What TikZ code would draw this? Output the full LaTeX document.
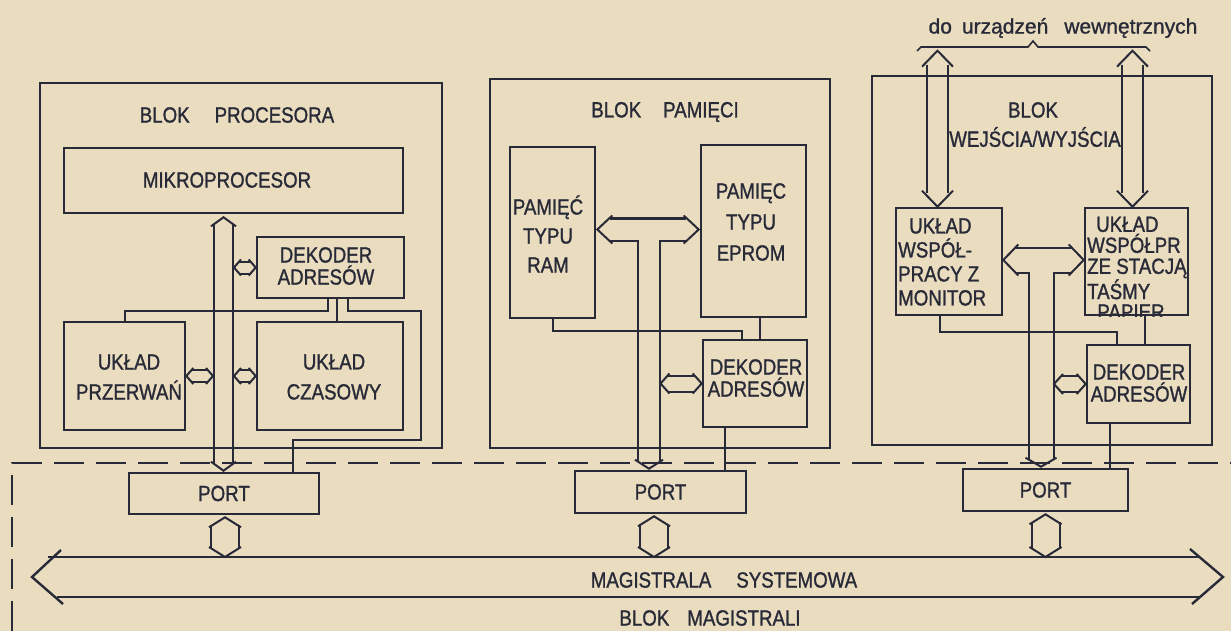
\documentclass[tikz,border=0pt]{standalone}
\usepackage{fontspec}
\setmainfont{Liberation Sans}[FakeStretch=0.85,FakeBold=1.2]
\newfontfamily\plainsans{Liberation Sans}[FakeBold=1.0]
\usetikzlibrary{calc,fit}
\definecolor{paper}{HTML}{EADCBF}
\definecolor{ink}{HTML}{282A38}
\tikzset{
  box/.style={draw=ink, line width=2.6pt, inner sep=0pt},
  txt/.style={text=ink, font=\fontsize{22}{26}\selectfont, align=center, inner sep=0pt},
  wire/.style={draw=ink, line width=2pt},
  bus/.style={draw=ink, line width=2pt, line join=miter},
  border/.style={draw=ink, line width=2.2pt, dash pattern=on 30pt off 12pt},
}
% box from two corner points
\newcommand{\mkbox}[3]{\node[box, fit={#2 #3}] (#1) {};}
% vertical double arrow: top tip, bottom tip, half width, head length, barb extra
\newcommand{\vbus}[5]{%
  \draw[bus] ($(#1)+(-#3-#5,#4)$) -- (#1) -- ($(#1)+(#3+#5,#4)$);
  \draw[bus] ($(#1)+(-#3,#4-2)$) -- ($(#2)+(-#3,-#4+2)$);
  \draw[bus] ($(#1)+(#3,#4-2)$) -- ($(#2)+(#3,-#4+2)$);
  \draw[bus] ($(#2)+(-#3-#5,-#4)$) -- (#2) -- ($(#2)+(#3+#5,-#4)$);}
% horizontal double arrow: left tip, right tip, half width, head length
\newcommand{\hbus}[4]{%
  \draw[bus] ($(#1)+(#4,-#3-2)$) -- (#1) -- ($(#1)+(#4,#3+2)$);
  \draw[bus] ($(#1)+(#4-2,-#3)$) -- ($(#2)+(-#4+2,-#3)$);
  \draw[bus] ($(#1)+(#4-2,#3)$) -- ($(#2)+(-#4+2,#3)$);
  \draw[bus] ($(#2)+(-#4,-#3-2)$) -- (#2) -- ($(#2)+(-#4,#3+2)$);}
% T-shaped bus: left tip, right tip, bottom tip, half width, side head, bottom head
\newcommand{\tbus}[6]{%
  \draw[bus] ($(#1)+(#5,-#4-3)$) -- (#1) -- ($(#1)+(#5,#4+3)$);
  \draw[bus] ($(#2)+(-#5,-#4-3)$) -- (#2) -- ($(#2)+(-#5,#4+3)$);
  \draw[bus] ($(#1)+(#5-2,-#4)$) -- ($(#2)+(-#5+2,-#4)$);
  \draw[bus] ($(#1)+(#5-2,#4)$) -| ($(#3)+(-#4,-#6+2)$);
  \draw[bus] ($(#2)+(-#5+2,#4)$) -| ($(#3)+(#4,-#6+2)$);
  \draw[bus] ($(#3)+(-#4-3,-#6)$) -- (#3) -- ($(#3)+(#4+3,-#6)$);}
\begin{document}
\begin{tikzpicture}[x=1pt,y=-1pt]
\fill[paper] (0,0) rectangle (1231,631);
\useasboundingbox (0,0) rectangle (1231,631);

% ---------- boxes ----------
\mkbox{procblk}{(40,83)}{(442,448)}
\mkbox{mp}{(64,148)}{(403,213)}
\mkbox{dek1}{(257,237)}{(404,298)}
\mkbox{przer}{(64,322)}{(185,430)}
\mkbox{czas}{(257,322)}{(403,430)}
\mkbox{port1}{(129,473)}{(319,514)}

\mkbox{memblk}{(490,79)}{(830,448)}
\mkbox{ram}{(510,147)}{(595,318)}
\mkbox{eprom}{(701,145)}{(806,317)}
\mkbox{dek2}{(703,340)}{(807,427)}
\mkbox{port2}{(575,471)}{(746,513)}

\mkbox{ioblk}{(872,76)}{(1212,445)}
\mkbox{mon}{(896,208)}{(1002,315)}
\mkbox{tape}{(1085,208)}{(1188,315)}
\mkbox{dek3}{(1087,345)}{(1190,423)}
\mkbox{port3}{(963,469)}{(1128,511)}

% ---------- texts ----------
\node[txt] (tproc) at (237,115) {BLOK\hspace{25pt}PROCESORA};
\node[txt] (tmp) at (227,180) {MIKROPROCESOR};
\node[txt, font=\fontsize{22}{22}\selectfont] (tdek1) at (326,266) {DEKODER\\ADRESÓW};
\node[txt, font=\fontsize{22}{30}\selectfont] (tprzer) at (129,377) {UKŁAD\\PRZERWAŃ};
\node[txt, font=\fontsize{22}{30}\selectfont] (tczas) at (334,377) {UKŁAD\\CZASOWY};

\node[txt] (tmem) at (665,112) {BLOK\hspace{22pt}PAMIĘCI};
\node[txt, font=\fontsize{22}{29}\selectfont] (tram) at (548,234) {PAMIĘĆ\\TYPU\\RAM};
\node[txt, font=\fontsize{22}{31}\selectfont] (teprom) at (751,222) {PAMIĘC\\TYPU\\EPROM};
\node[txt, font=\fontsize{22}{22}\selectfont] (tdek2) at (756,378) {DEKODER\\ADRESÓW};

\node[txt] (tio1) at (1033,110) {BLOK};
\node[txt] (tio2) at (1035,137) {WEJŚCIA/WYJŚCIA};
\node[txt, font=\fontsize{22}{24}\selectfont, align=left, anchor=west] (tmon) at (898,262) {\hspace{11pt}UKŁAD\\WSPÓŁ-\\PRACY Z\\MONITOR};
\node[txt, font=\fontsize{22}{21}\selectfont, align=left, anchor=west] (ttape) at (1087,258) {\hspace{9pt}UKŁAD\\WSPÓŁPR\\ZE STACJĄ\\TAŚMY};
\begin{scope}
  \clip (tape.south west) rectangle (tape.north east);
  \node[txt] (tpap) at (1131,312) {PAPIER};
\end{scope}
\node[txt, font=\fontsize{22}{22}\selectfont] (tdek3) at (1139,383) {DEKODER\\ADRESÓW};

\node[txt] (tp1) at (port1) {PORT};
\node[txt] (tp2) at (port2) {PORT};
\node[txt] (tp3) at (port3) {PORT};

\node[txt] (tbus) at (724,580) {MAGISTRALA\hspace{25pt}SYSTEMOWA};
\node[txt] (tbm) at (710,618) {BLOK\hspace{18pt}MAGISTRALI};
\node[txt, font=\plainsans\fontsize{21}{24}\selectfont] (text) at (1063,28) {do\hspace{10pt}urządzeń\hspace{16pt}wewnętrznych};

% brace
\draw[wire, line width=1.6pt] (917,51) -- (921,47) -- (1028,47) -- (1033,41) -- (1038,47) -- (1146,47) -- (1150,51);

% ---------- dashed bus block border ----------
\coordinate (dl) at (12,631);
\coordinate (dc) at (12,463);
\coordinate (dr) at (1231,463);
\draw[border] (dl) -- (dc) -- (dr);

% ---------- system bus ----------
\coordinate (busTL) at (48,557);
\coordinate (busTR) at (1200,557);
\coordinate (busBL) at (57,597);
\coordinate (busBR) at (1200,597);
\coordinate (busLt) at (32,577);
\coordinate (busRt) at (1223,577);
\draw[bus, line width=2.6pt] (busTL) -- (busTR);
\draw[bus, line width=2.6pt] (busBL) -- (busBR);
\draw[bus, line width=2.4pt] ($(busLt)+(29,-27)$) -- (busLt) -- ($(busLt)+(31,27)$);
\draw[bus, line width=2.4pt] ($(busRt)+(-33,-28)$) -- (busRt) -- ($(busRt)+(-31,27)$);

% ---------- processor block buses ----------
\coordinate (b1t) at ($(mp.south)+(-10,3)$);
\coordinate (b1b) at ($(port1.north)+(-0.5,-1)$);
\vbus{b1t}{b1b}{9.5}{9}{3}
\coordinate (s1a) at ($(dek1.west -| b1t)+(10.5,0)$);
\hbus{s1a}{dek1.west}{6}{7}
\coordinate (s2b) at ($(przer.east -| b1t)+(-10.5,0)$);
\hbus{przer.east}{s2b}{6}{7}
\coordinate (s3a) at ($(czas.west -| b1t)+(10.5,0)$);
\hbus{s3a}{czas.west}{6}{7}

\draw[wire] (przer.north) |- ($(dek1.south)+(-2.5,12)$) -- ($(dek1.south)+(-2.5,0)$);
\draw[wire] ($(dek1.south)+(6.5,0)$) -- ($(czas.north)+(7,0)$);
\draw[wire] ($(dek1.south)+(17.5,0)$) |- ($(dek1.south -| czas.east)+(17,12)$) |- ($(port1.north)+(69,-32)$) -- ($(port1.north)+(69,0)$);

% ---------- memory block buses ----------
\coordinate (mL) at ($(ram.east)+(1,-3)$);
\coordinate (mR) at ($(eprom.west)+(-1,-1.5)$);
\coordinate (mB) at ($(port2.north)+(-11.5,-1)$);
\tbus{mL}{mR}{mB}{11}{15}{9}
\coordinate (s4a) at ($(dek2.west -| mB)+(11.5,0)$);
\hbus{s4a}{dek2.west}{8}{9}

\draw[wire] (ram.south) |- ($(dek2.north)+(-13,-8)$) -- ($(dek2.north)+(-13,0)$);
\draw[wire] ($(dek2.north)+(5,0)$) -- ($(eprom.south)+(6.5,0)$);
\draw[wire] ($(dek2.south)+(-30,0)$) -- ($(port2.north)+(64.5,0)$);

% ---------- I/O block buses ----------
\coordinate (iL) at ($(mon.east)+(0,-1.5)$);
\coordinate (iR) at ($(tape.west)+(0,-1.5)$);
\coordinate (iB) at ($(port3.north)+(-4.5,-1)$);
\tbus{iL}{iR}{iB}{12.5}{15}{9}
\coordinate (s5a) at ($(dek3.west -| iB)+(13,0)$);
\hbus{s5a}{dek3.west}{8}{9}

\coordinate (e1b) at ($(mon.north)+(-11.5,0)$);
\coordinate (e1t) at ($(e1b)+(0,-156)$);
\vbus{e1t}{e1b}{10.5}{16}{5}
\coordinate (e2b) at ($(tape.north)+(-4,0)$);
\coordinate (e2t) at ($(e2b)+(0,-156)$);
\vbus{e2t}{e2b}{10.5}{16}{5}

\draw[wire] ($(mon.south)+(-9,0)$) |- ($(dek3.north)+(-21.5,-12)$) -- ($(dek3.north)+(-21.5,0)$);
\draw[wire] ($(dek3.north)+(6.5,0)$) -- ($(tape.south)+(8.5,0)$);
\draw[wire] ($(dek3.south)+(-28.5,0)$) -- ($(port3.north)+(64.5,0)$);

% ---------- port <-> system bus ----------
\coordinate (p1t) at ($(port1.south)+(1,2)$);
\coordinate (p1b) at (p1t |- busTL);
\vbus{p1t}{p1b}{14}{10}{2}
\coordinate (p2t) at ($(port2.south)+(-6.5,2)$);
\coordinate (p2b) at (p2t |- busTL);
\vbus{p2t}{p2b}{14}{10}{2}
\coordinate (p3t) at ($(port3.south)+(0,2)$);
\coordinate (p3b) at (p3t |- busTL);
\vbus{p3t}{p3b}{14}{10}{2}
\end{tikzpicture}
\end{document}
